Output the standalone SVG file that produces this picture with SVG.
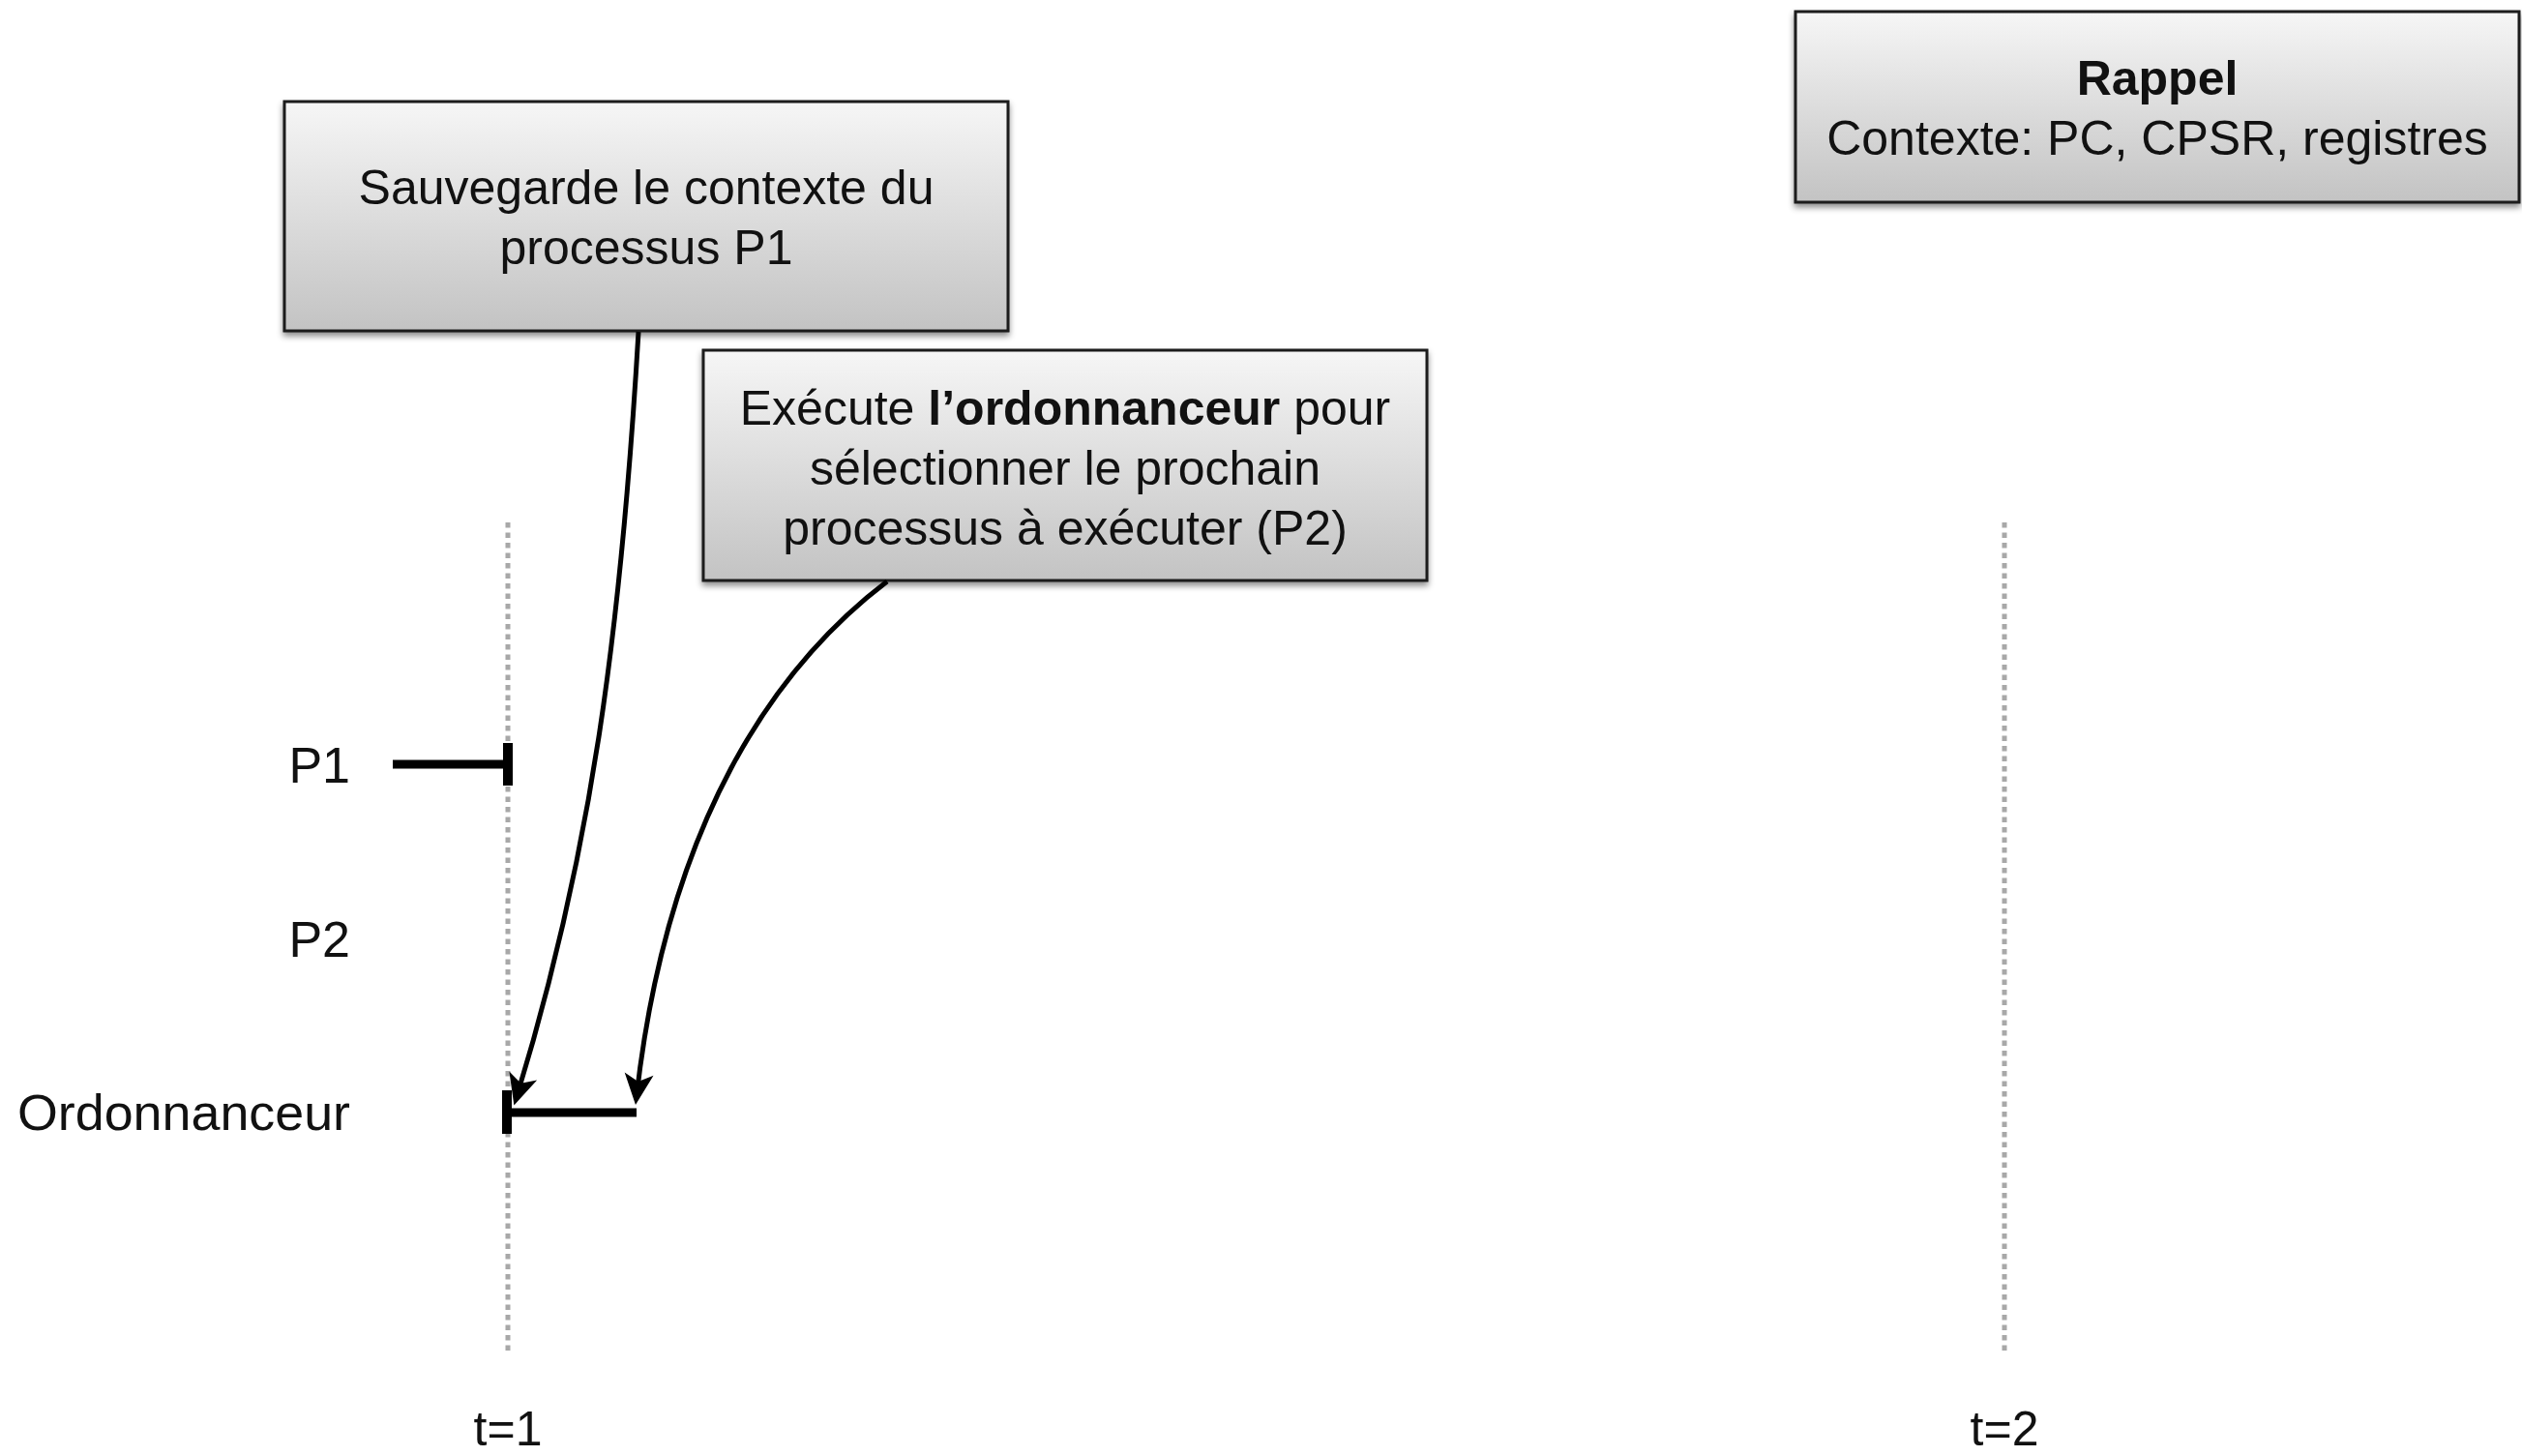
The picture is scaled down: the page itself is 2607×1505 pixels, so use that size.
<svg xmlns="http://www.w3.org/2000/svg" width="2607" height="1505" viewBox="0 0 2607 1505">
<style>
text{font-family:"Liberation Sans",Arial,sans-serif;fill:#111;}
.box{fill:url(#g);stroke:#1a1a1a;stroke-width:3;filter:url(#sh);}
.bt{font-size:50px;text-anchor:middle;}
.lbl{font-size:52px;text-anchor:end;}
.tl{font-size:50px;text-anchor:middle;}
.grid{stroke:#a8a8a8;stroke-width:5;stroke-dasharray:5.5 5;fill:none;}
.bar{stroke:#000;stroke-width:9;fill:none;}
.tick{fill:#000;}
.arr{stroke:#000;stroke-width:5;fill:none;marker-end:url(#ah);}
</style>
<defs>
<linearGradient id="g" x1="0" y1="0" x2="0" y2="1">
<stop offset="0" stop-color="#f6f6f6"/>
<stop offset="1" stop-color="#c3c3c3"/>
</linearGradient>
<filter id="sh" x="-5%" y="-5%" width="110%" height="120%">
<feDropShadow dx="0" dy="4" stdDeviation="3" flood-color="#000" flood-opacity="0.45"/>
</filter>
<marker id="ah" markerUnits="userSpaceOnUse" viewBox="-36 -18 46 36" refX="-9" refY="0" markerWidth="46" markerHeight="36" orient="auto">
<path d="M0,0 L-32,-15 L-24,0 L-32,15 Z" fill="#000"/>
</marker>
</defs>

<g id="timeline-t1">
<line class="grid" x1="525" y1="540" x2="525" y2="1397"/>
<text class="tl" x="525" y="1494">t=1</text>
</g>
<g id="timeline-t2">
<line class="grid" x1="2072" y1="540" x2="2072" y2="1397"/>
<text class="tl" x="2072" y="1494">t=2</text>
</g>

<g id="label-p1"><text class="lbl" x="362" y="809">P1</text></g>
<g id="label-p2"><text class="lbl" x="362" y="989">P2</text></g>
<g id="label-ordonnanceur"><text class="lbl" x="362" y="1168" textLength="344" lengthAdjust="spacingAndGlyphs">Ordonnanceur</text></g>

<g id="exec-p1">
<line class="bar" x1="406" y1="790" x2="522" y2="790"/>
<rect class="tick" x="520" y="768" width="10" height="44"/>
</g>
<g id="exec-ordonnanceur">
<line class="bar" x1="522" y1="1150" x2="658" y2="1150"/>
<rect class="tick" x="519" y="1127" width="10" height="45"/>
</g>

<g id="box-sauvegarde">
<rect class="box" x="294" y="105" width="748" height="237"/>
<text class="bt" x="668" y="211">Sauvegarde le contexte du</text>
<text class="bt" x="668" y="273">processus P1</text>
</g>

<g id="box-ordonnanceur">
<rect class="box" x="727" y="362" width="748" height="238"/>
<text class="bt" x="1101" y="439">Exécute <tspan font-weight="bold">l’ordonnanceur</tspan> pour</text>
<text class="bt" x="1101" y="501">sélectionner le prochain</text>
<text class="bt" x="1101" y="563">processus à exécuter (P2)</text>
</g>

<g id="box-rappel">
<rect class="box" x="1856" y="12" width="748" height="197"/>
<text class="bt" x="2230" y="98" font-weight="bold">Rappel</text>
<text class="bt" x="2230" y="160">Contexte: PC, CPSR, registres</text>
</g>

<g id="connectors">
<path class="arr" d="M660,343 C642,650 612,880 534,1134"/>
<path class="arr" d="M917,601 C800,690 690,850 658,1133"/>
</g>
</svg>
